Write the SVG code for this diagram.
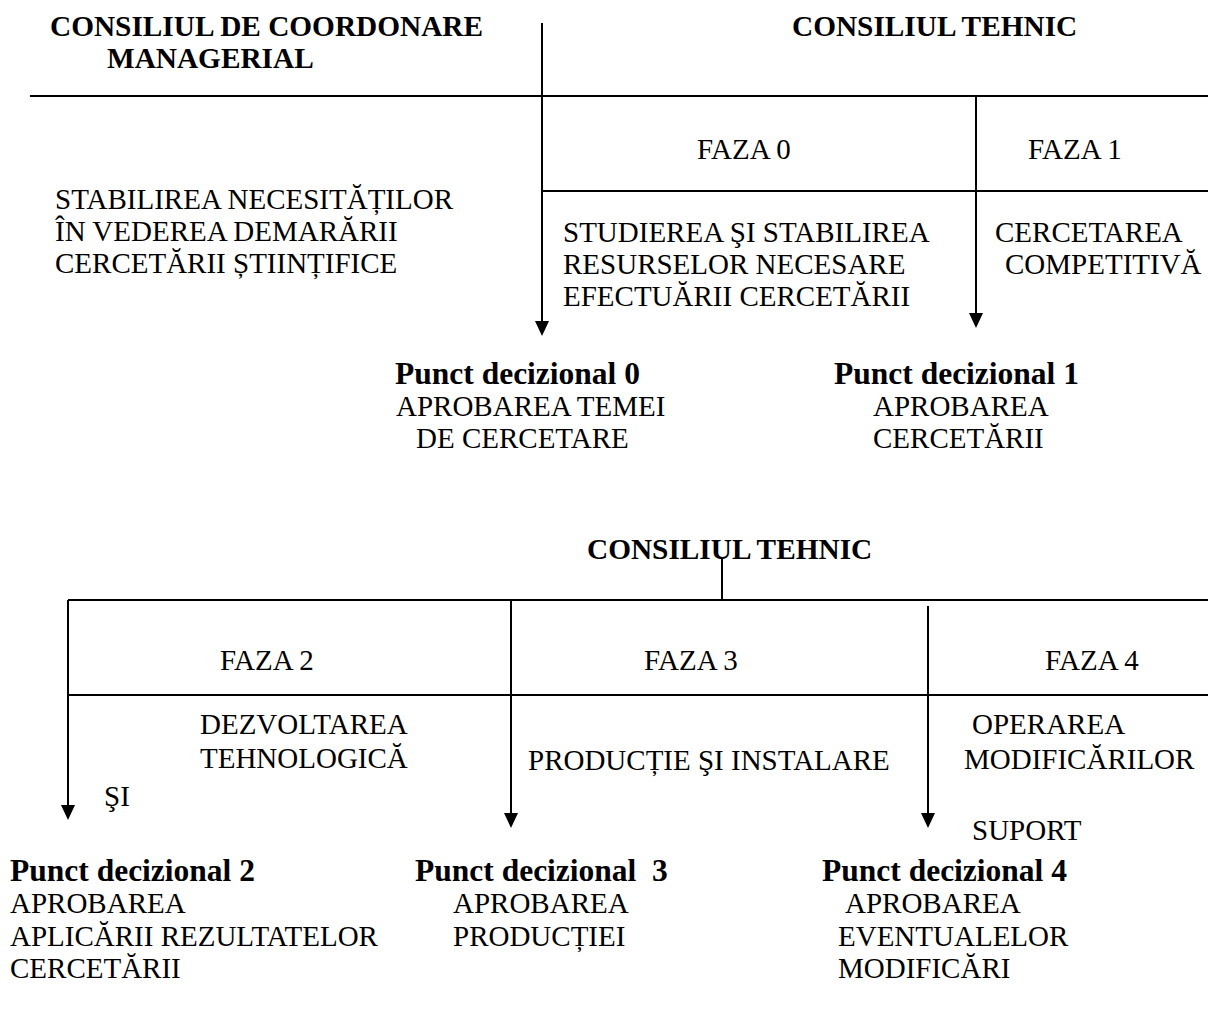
<svg xmlns="http://www.w3.org/2000/svg" width="1208" height="1012" viewBox="0 0 1208 1012">
<defs>
<style>
.t{font-family:"Liberation Serif","Times New Roman",serif;font-size:29px;fill:#000}
.b{font-family:"Liberation Serif","Times New Roman",serif;font-size:29.3px;font-weight:bold;fill:#000}
.p{font-family:"Liberation Serif","Times New Roman",serif;font-size:31.5px;font-weight:bold;fill:#000}
.l{stroke:#000;stroke-width:2;fill:none}
.h{fill:#000}
</style>
</defs>
<rect width="1208" height="1012" fill="#fff"/>
<g id="connectors">
<line class="l" x1="30" y1="96" x2="1208" y2="96"/>
<line class="l" x1="542" y1="191" x2="1208" y2="191"/>
<line class="l" x1="542" y1="23" x2="542" y2="322"/>
<path class="h" d="M535,321 L549,321 L542,336 Z"/>
<line class="l" x1="976" y1="96" x2="976" y2="314"/>
<path class="h" d="M969,313 L983,313 L976,328 Z"/>
<line class="l" x1="722" y1="557" x2="722" y2="600"/>
<line class="l" x1="68" y1="600" x2="1208" y2="600"/>
<line class="l" x1="68" y1="695" x2="1208" y2="695"/>
<line class="l" x1="68" y1="600" x2="68" y2="806"/>
<path class="h" d="M61,805 L75,805 L68,820 Z"/>
<line class="l" x1="511" y1="600" x2="511" y2="814"/>
<path class="h" d="M504,813 L518,813 L511,828 Z"/>
<line class="l" x1="928" y1="606" x2="928" y2="814"/>
<path class="h" d="M921,813 L935,813 L928,828 Z"/>
</g>
<g id="cons-coord"><text class="b" x="50" y="36">CONSILIUL DE COORDONARE</text><text class="b" x="107" y="68">MANAGERIAL</text></g>
<g id="cons-tehnic-1"><text class="b" x="792" y="36">CONSILIUL TEHNIC</text></g>
<g id="stabilirea"><text class="t" x="55" y="209">STABILIREA NECESITĂȚILOR</text><text class="t" x="55" y="241">ÎN VEDEREA DEMARĂRII</text><text class="t" x="55" y="273">CERCETĂRII ȘTIINȚIFICE</text></g>
<g id="faza0"><text class="t" x="697" y="159">FAZA 0</text></g>
<g id="faza1"><text class="t" x="1028" y="159">FAZA 1</text></g>
<g id="studierea"><text class="t" x="563" y="242">STUDIEREA ŞI STABILIREA</text><text class="t" x="563" y="274">RESURSELOR NECESARE</text><text class="t" x="563" y="306">EFECTUĂRII CERCETĂRII</text></g>
<g id="cercetarea"><text class="t" x="995" y="242">CERCETAREA</text><text class="t" x="1005" y="274">COMPETITIVĂ</text></g>
<g id="pd0"><text class="p" x="395" y="384">Punct decizional 0</text><text class="t" x="396" y="416">APROBAREA TEMEI</text><text class="t" x="416" y="448">DE CERCETARE</text></g>
<g id="pd1"><text class="p" x="834" y="384">Punct decizional 1</text><text class="t" x="873" y="416">APROBAREA</text><text class="t" x="873" y="448">CERCETĂRII</text></g>
<g id="cons-tehnic-2"><text class="b" x="587" y="559">CONSILIUL TEHNIC</text></g>
<g id="faza2"><text class="t" x="220" y="670">FAZA 2</text></g>
<g id="faza3"><text class="t" x="644" y="670">FAZA 3</text></g>
<g id="faza4"><text class="t" x="1045" y="670">FAZA 4</text></g>
<g id="dezvoltarea"><text class="t" x="200" y="734">DEZVOLTAREA</text><text class="t" x="200" y="768">TEHNOLOGICĂ</text><text class="t" x="104" y="806">ŞI</text></g>
<g id="productie"><text class="t" x="528" y="770">PRODUCȚIE ŞI INSTALARE</text></g>
<g id="operarea"><text class="t" x="972" y="734">OPERAREA</text><text class="t" x="964" y="769">MODIFICĂRILOR</text><text class="t" x="972" y="840">SUPORT</text></g>
<g id="pd2"><text class="p" x="10" y="881">Punct decizional 2</text><text class="t" x="10" y="913">APROBAREA</text><text class="t" x="10" y="946">APLICĂRII REZULTATELOR</text><text class="t" x="10" y="978">CERCETĂRII</text></g>
<g id="pd3"><text class="p" x="415" y="881" xml:space="preserve">Punct decizional  3</text><text class="t" x="453" y="913">APROBAREA</text><text class="t" x="453" y="946">PRODUCȚIEI</text></g>
<g id="pd4"><text class="p" x="822" y="881">Punct decizional 4</text><text class="t" x="845" y="913">APROBAREA</text><text class="t" x="838" y="946">EVENTUALELOR</text><text class="t" x="838" y="978">MODIFICĂRI</text></g>
</svg>
